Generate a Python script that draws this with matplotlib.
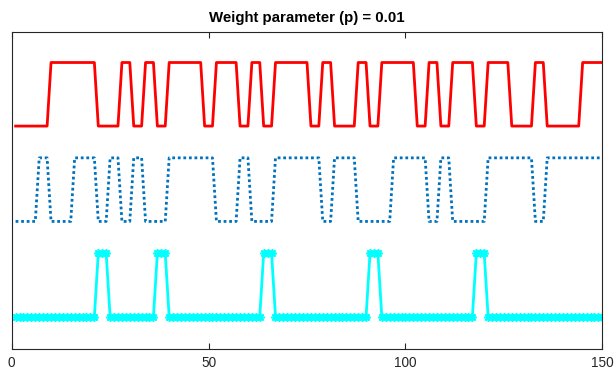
import matplotlib
matplotlib.use("Agg")
import matplotlib.pyplot as plt
import numpy as np

plt.rcParams['font.family'] = ['Liberation Sans', 'DejaVu Sans']

title = "Weight parameter (p) = 0.01"
x_ticks = [0, 50, 100, 150]
x_vals = list(range(1, 151))

red_states = [0]*9 + [1]*12 + [0]*6 + [1]*3 + [0]*3 + [1]*3 + [0]*3 + [1]*9 + [0]*3 + [1]*6 \
    + [0]*3 + [1]*3 + [0]*3 + [1]*9 + [0]*3 + [1]*3 + [0]*6 + [1]*3 + [0]*3 + [1]*9 \
    + [0]*3 + [1]*3 + [0]*3 + [1]*6 + [0]*3 + [1]*6 + [0]*6 + [1]*3 + [0]*9 + [1]*6
blue_states = [0]*6 + [1]*3 + [0]*6 + [1]*6 + [0]*3 + [1]*3 + [0]*3 + [1]*3 + [0]*6 + [1]*12 \
    + [0]*6 + [1]*3 + [0]*6 + [1]*12 + [0]*3 + [1]*6 + [0]*9 + [1]*9 + [0]*3 + [1]*3 \
    + [0]*9 + [1]*12 + [0]*3 + [1]*15
cyan_states = [0]*21 + [1]*3 + [0]*12 + [1]*3 + [0]*24 + [1]*3 + [0]*24 + [1]*3 + [0]*24 + [1]*3 + [0]*30

red_offset = 3.0
blue_offset = 1.5
cyan_offset = 0.0

fig = plt.figure(figsize=(6.14, 3.72), dpi=100)
ax = fig.add_axes([0.019, 0.063, 0.962, 0.851])

ax.plot(x_vals, np.array(red_states) + red_offset, color='#FF0000', lw=2.0)
ax.plot(x_vals, np.array(blue_states) + blue_offset, color='#0072BD', lw=2.0,
        linestyle=(0, (1, 1)))
ax.plot(x_vals, np.array(cyan_states) + cyan_offset, color='#00FFFF', lw=2.0,
        marker=(8, 2, 0), markersize=6, markeredgewidth=1.2)

ax.set_xlim(0, 150)
ax.set_ylim(-0.5, 4.48)
ax.set_xticks(x_ticks)
ax.set_yticks([])
ax.tick_params(axis='x', direction='in', length=4, width=0.8, top=True,
               labelsize=9.8, colors='#262626', pad=5)
for s in ax.spines.values():
    s.set_color('#262626')
    s.set_linewidth(0.8)
ax.set_title(title, fontsize=10.8, fontweight='bold', pad=7)

fig.savefig("out.png", dpi=100)
